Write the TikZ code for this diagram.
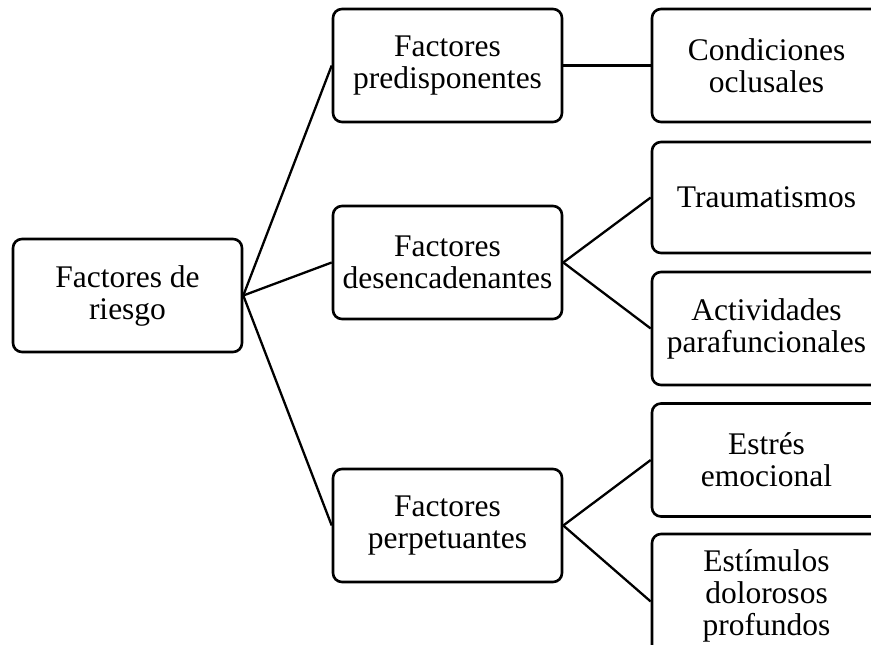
\documentclass[tikz,border=0pt]{standalone}
\usepackage{fontspec}
\setmainfont{Liberation Serif}
\usepackage{tikz}
\usetikzlibrary{positioning}

\begin{document}
\begin{tikzpicture}[x=1pt,y=-1pt]
			\tikzstyle{Box}		= [rectangle, draw, rounded corners=9pt, line width=2.6pt, fill=white, minimum width=229pt, minimum height=113pt, inner sep=0pt, align=center, font=\fontsize{31.5}{32}\selectfont]
			\tikzstyle{Link}	= [line width=2.3pt, black]
			
			\useasboundingbox (0,0) rectangle (871,645);
			\clip (0,0) rectangle (871,645);
			
			\node (n0) at (127.5,295.5) [Box] {Factores de\\riesgo};
			\node (n1) at (447.5,65.5) [Box] {Factores\\predisponentes};
			\node (n2) at (447.5,262.5) [Box] {Factores\\desencadenantes};
			\node (n3) at (447.5,525.5) [Box] {Factores\\perpetuantes};
			\node (n4) at (766.5,65.5) [Box] {Condiciones\\oclusales};
			\node (n5) at (766.5,197.5) [Box, minimum height=111pt] {Traumatismos};
			\node (n6) at (766.5,328.5) [Box] {Actividades\\parafuncionales};
			\node (n7) at (766.5,460) [Box] {Estrés\\emocional};
			\node (n8) at (766.5,596) [Box, minimum height=124pt] {Estímulos\\dolorosos\\profundos};
			
			\draw [-] (n0.east) to (n1.west) [Link];
			\draw [-] (n0.east) to (n2.west) [Link];
			\draw [-] (n0.east) to (n3.west) [Link];
			\draw [-] (n1.east) to (n4.west) [Link];
			\draw [-] (n2.east) to (n5.west) [Link];
			\draw [-] (n2.east) to (n6.west) [Link];
			\draw [-] (n3.east) to (n7.west) [Link];
			\draw [-] (n3.east) to ([yshift=-5.5pt]n8.west) [Link];
		\end{tikzpicture}
\end{document}
